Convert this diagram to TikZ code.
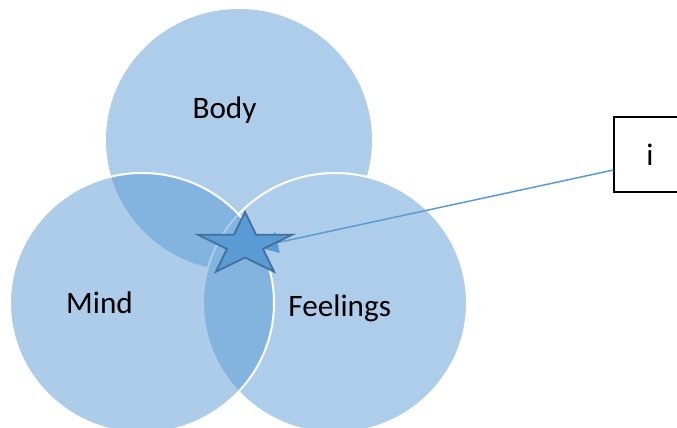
\documentclass[tikz,border=0pt]{standalone}
\usepackage{fontspec}
\setmainfont{Carlito}
\usetikzlibrary{shapes.geometric,arrows.meta}
\definecolor{accent}{HTML}{5B9BD5}
\definecolor{lightacc}{RGB}{173,205,234}
\definecolor{starline}{HTML}{41719C}
\tikzset{
  lbl/.style={anchor=base,inner sep=0pt,font=\fontsize{31.2}{37}\selectfont},
  conn/.style={draw=accent,line width=1.5pt,-{Triangle[length=21pt,width=21pt]}},
  starshape/.style={star,star points=5,star point ratio=2.618,minimum size=66pt,inner sep=0pt,
    fill=accent,draw=starline,line width=1.8pt,xscale=1.5},
  boxshape/.style={draw=black,line width=1.2pt,minimum width=72pt,minimum height=75pt,inner sep=0pt,
    font=\fontsize{31.2}{37}\selectfont}
}
\begin{document}
\begin{tikzpicture}[x=1pt,y=-1pt]
\clip (0,0) rectangle (677,428);
\fill[white] (0,0) rectangle (677,428);
% circles
\fill[lightacc] (239,140) ellipse [x radius=133, y radius=131];
\draw[white,line width=2pt,fill=lightacc] (335,303) ellipse [x radius=132, y radius=130];
\draw[white,line width=2pt,fill=accent,fill opacity=0.5] (142,303) ellipse [x radius=132, y radius=130];
% callout box
\node[boxshape] (box) at (650,154.5) {i};
\coordinate (tip) at (257,247);
\draw[conn] ([yshift=-15.5pt]box.west) -- (tip);
% star
\node[starshape] (st) at (245,245) {};
% labels
\node[lbl] (body) at (224.5,118.3) {Body};
\node[lbl] (mind) at (99.5,313.3) {Mind};
\node[lbl] (feel) at (339.7,316.7) {Feelings};
\end{tikzpicture}
\end{document}
